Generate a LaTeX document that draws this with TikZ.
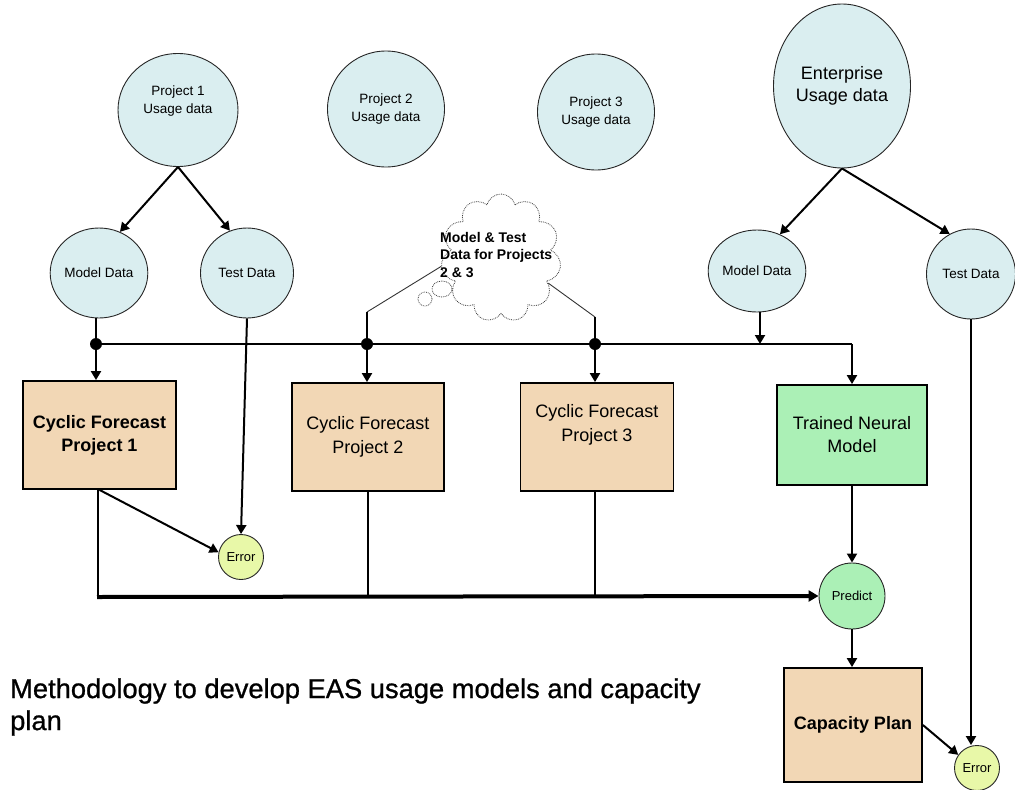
\documentclass[tikz,border=0pt]{standalone}
\usepackage{fontspec}
\setmainfont{Liberation Sans}
\newfontfamily\titlefont{Liberation Sans}[FakeBold=0.9]
\usetikzlibrary{arrows.meta,shapes.geometric,shapes.symbols}
\definecolor{databg}{HTML}{DAEEF0}
\definecolor{wheatbg}{HTML}{F2D7B5}
\definecolor{greenbg}{HTML}{ABF0B6}
\definecolor{errbg}{HTML}{E8F8A8}
\newcommand{\fs}[2]{\fontsize{#1}{#2}\selectfont}
\begin{document}
\begin{tikzpicture}[x=1pt,y=-1pt,
  datac/.style={ellipse, draw=black!85, line width=0.9, fill=databg, inner sep=0, align=center},
  boxn/.style={rectangle, draw=black, line width=1.8, fill=wheatbg, inner sep=0, align=center},
  txt/.style={inner sep=0, align=center},
  ln/.style={line width=2},
  arr/.style={line width=2, -{Triangle[length=9pt,width=10pt]}},
  busln/.style={line width=4},
  thinln/.style={line width=0.9, black!80},
  jdot/.style={circle, fill=black, inner sep=0, minimum size=12},
  puff/.style={draw=black!75, densely dotted, line width=0.8}
]
\useasboundingbox (0,0) rectangle (1015,790);

% usage data sources
\node[datac, minimum width=120, minimum height=113] (p1) at (178,110) {};
\node[txt, font=\fs{13.5}{18}] (p1t) at (178,101) {Project 1\\Usage data};
\node[datac, minimum width=117, minimum height=116, font=\fs{13.5}{18}] (p2) at (386,109) {Project 2\\Usage data};
\node[datac, minimum width=117, minimum height=116, font=\fs{13.5}{18}] (p3) at (596,112) {Project 3\\Usage data};
\node[datac, minimum width=137, minimum height=164, font=\fs{18}{22}] (ent) at (842,86) {Enterprise\\Usage data};

% model / test data
\node[datac, minimum width=93, minimum height=90, font=\fs{13.5}{16}] (md1) at (99,273) {Model Data};
\node[datac, minimum width=93, minimum height=90, font=\fs{13.5}{16}] (td1) at (247,273) {Test Data};
\node[datac, minimum width=87, minimum height=82, font=\fs{13.5}{16}] (md2) at (757,271) {Model Data};
\node[datac, minimum width=89, minimum height=90, font=\fs{13.5}{16}] (td2) at (971,274) {Test Data};

% thought cloud
\node[cloud, cloud puffs=11, aspect=0.95, puff, fill=white, minimum width=120, minimum height=128] (cl) at (501,258) {};
\node[ellipse, puff, minimum width=20, minimum height=16, inner sep=0] (bub1) at (442,289) {};
\node[ellipse, puff, minimum width=14, minimum height=14, inner sep=0] (bub2) at (425,299) {};
\node[txt, anchor=west, align=left, font=\bfseries\fs{14}{17.5}] (clt) at (440,255) {Model \& Test\\Data for Projects\\2 \& 3};

% forecast boxes
\node[boxn, minimum width=153, minimum height=108, font=\bfseries\fs{18}{23}] (cf1) at (99.5,435) {Cyclic Forecast\\Project 1};
\node[boxn, minimum width=152, minimum height=108, font=\fs{18}{24}] (cf2) at (368,437) {Cyclic Forecast\\Project 2};
\node[boxn, minimum width=153, minimum height=108] (cf3) at (597,437) {};
\node[txt, font=\fs{18}{24}] (cf3t) at (597,425) {Cyclic Forecast\\Project 3};
\node[boxn, fill=greenbg, minimum width=150, minimum height=100, font=\fs{18}{23}] (tnm) at (852,435) {Trained Neural\\Model};
\node[circle, draw=black!85, line width=0.9, fill=greenbg, minimum size=66, inner sep=0, font=\fs{13}{15}] (pred) at (852,596) {Predict};
\node[boxn, minimum width=138, minimum height=114, font=\bfseries\fs{18}{22}] (cp) at (853,725) {Capacity Plan};

% error nodes
\node[circle, draw=black!85, line width=0.9, fill=errbg, minimum size=45, inner sep=0, font=\fs{13}{15}] (err1) at (241,557) {Error};
\node[circle, draw=black!85, line width=0.9, fill=errbg, minimum size=45, inner sep=0, font=\fs{13}{15}] (err2) at (977,768) {Error};

% title
\node[txt, anchor=west, align=left, font=\titlefont\fs{27.3}{32}] (title) at (10,707) {Methodology to develop EAS usage models and capacity\\plan};

% bus junctions
\coordinate (j1) at (96,344);
\coordinate (j2) at (367,344);
\coordinate (j3) at (595,344);
\coordinate (jm) at (760,344);
\coordinate (je) at (852,344);
\coordinate (c2) at (367,312);
\coordinate (c3) at (595,317);
\coordinate (b1) at (98,597);

% splits of the usage data
\draw[arr] (p1.south) -- (md1.63);
\draw[arr] (p1.south) -- (td1.112);
\draw[arr] (ent.south) -- (md2.58);
\draw[arr] (ent.south) -- (td2.118);

% model data bus
\draw[ln] (md1.south -| j1) -- (j1);
\draw[ln] (j1) -- (je);
\draw[arr] (j1) -- (cf1.north -| j1);
\draw[arr] (j2) -- (cf2.north -| j2);
\draw[arr] (j3) -- (cf3.north -| j3);
\draw[arr] (md2.south -| jm) -- (jm);
\draw[arr] (je) -- (tnm.north);
\node[jdot] (d1) at (j1) {};
\node[jdot] (d2) at (j2) {};
\node[jdot] (d3) at (j3) {};

% cloud callouts
\draw[thinln] (cl.188) -- (c2);
\draw[ln] (c2) -- (j2);
\draw[thinln] (cl.-28) -- (c3);
\draw[ln] (c3) -- (j3);

% errors
\draw[arr] (td1.south) -- (err1.north);
\draw[arr] (cf1.south) -- (err1.168);
\draw[arr] (td2.south) -- (td2.south |- err2.north);
\draw[arr] (cp.east) -- (err2.145);

% forecasts into prediction
\draw[ln] (cf1.south -| b1) -- (b1);
\draw[busln, -{Triangle[length=10pt,width=11pt]}] ([xshift=-1]b1) -- (pred.west);
\draw[ln] (cf2.south) -- (cf2.south |- b1);
\draw[ln] (cf3.south -| j3) -- (j3 |- b1);
\draw[arr] (tnm.south) -- (pred.north);
\draw[arr] (pred.south) -- (cp.north -| pred.south);
\end{tikzpicture}
\end{document}
